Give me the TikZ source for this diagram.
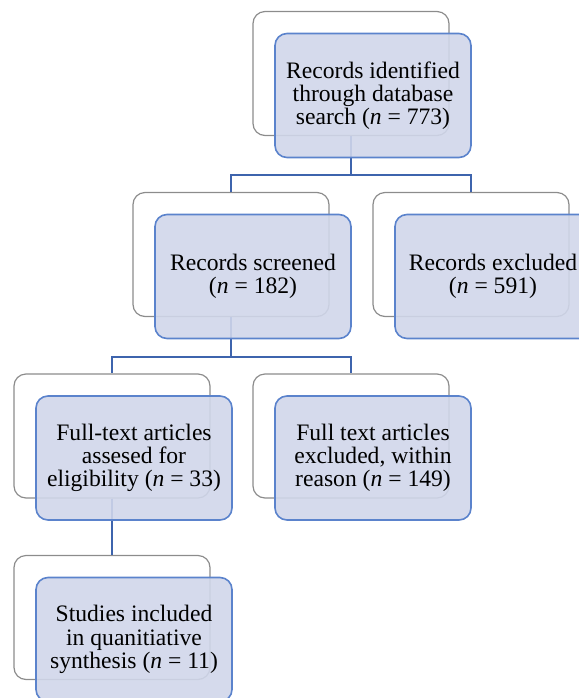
\documentclass[tikz,border=0pt]{standalone}
\usepackage{fontspec}
\setmainfont{Liberation Serif}
\definecolor{backgray}{HTML}{8C8C8C}
\definecolor{frontblue}{HTML}{5B83CC}
\definecolor{frontfill}{HTML}{D0D6EA}
\definecolor{linkblue}{HTML}{3E64AD}
\tikzset{
  backbox/.style={draw=backgray, line width=0.6pt, rounded corners=6pt,
    minimum width=98pt, minimum height=62pt, inner sep=0pt},
  frontbox/.style={draw=frontblue, line width=0.8pt, fill=frontfill,
    fill opacity=0.9, text opacity=1, rounded corners=6pt,
    minimum width=98pt, minimum height=62pt, inner sep=0pt, align=center,
    font=\fontsize{11.8}{11.6}\selectfont, xshift=11pt, yshift=-11pt},
  link/.style={draw=linkblue, line width=1pt}
}
\begin{document}
\begin{tikzpicture}[x=0.5pt,y=-0.5pt]
\useasboundingbox (0,0) rectangle (579,698);
\clip (0,0) rectangle (579,698);
% back boxes
\node[backbox] (identA) at (351,73.5) {};
\node[backbox] (screenA) at (231,254.5) {};
\node[backbox] (exclA) at (471,254.5) {};
\node[backbox] (fullA) at (112,436) {};
\node[backbox] (fullexA) at (351,436) {};
\node[backbox] (studA) at (112,617.5) {};
% connectors
\coordinate (split1) at (351,174.5);
\coordinate (split2) at (231,356.5);
\draw[link] (identA.south) -- (split1) -| (screenA.north);
\draw[link] (split1) -| (exclA.north);
\draw[link] (screenA.south) -- (split2) -| (fullA.north);
\draw[link] (split2) -| (fullexA.north);
\draw[link] (fullA.south) -- (studA.north);
% front boxes
\node[frontbox] (identB) at (identA) {Records identified\\through database\\search (\textit{n} = 773)};
\node[frontbox] (screenB) at (screenA) {Records screened\\(\textit{n} = 182)};
\node[frontbox] (exclB) at (exclA) {Records excluded\\(\textit{n} = 591)};
\node[frontbox] (fullB) at (fullA) {Full-text articles\\assesed for\\eligibility (\textit{n} = 33)};
\node[frontbox] (fullexB) at (fullexA) {Full text articles\\excluded, within\\reason (\textit{n} = 149)};
\node[frontbox] (studB) at (studA) {Studies included\\in quanitiative\\synthesis (\textit{n} = 11)};
\end{tikzpicture}
\end{document}
